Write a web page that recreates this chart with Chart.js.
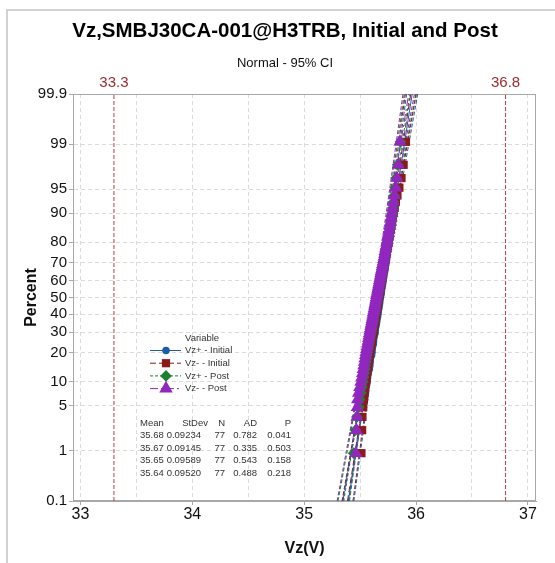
<!DOCTYPE html>
<html>
<head>
<meta charset="utf-8">
<script src="https://cdn.jsdelivr.net/npm/chart.js@4.4.0/dist/chart.umd.min.js"></script>
<style>
  html, body { margin: 0; padding: 0; background: #fff; }
  #c { display: block; }
</style>
</head>
<body>
<canvas id="c" width="555" height="563"></canvas>
<script>
// data (sorted Vz values, 77 parts per group)
const seriesNames = ["Vz+ - Initial", "Vz- - Initial", "Vz+ - Post", "Vz- - Post"];

const vzPlusInitial = [35.481, 35.497, 35.512, 35.530, 35.541, 35.548, 35.552, 35.563, 35.566, 35.571, 35.582, 35.587, 35.589, 35.591, 35.602, 35.606, 35.607, 35.611, 35.618, 35.620, 35.621, 35.627, 35.633, 35.634, 35.636, 35.641, 35.645, 35.648, 35.649, 35.655, 35.658, 35.661, 35.662, 35.667, 35.669, 35.673, 35.675, 35.676, 35.681,
  35.684, 35.688, 35.690, 35.691, 35.697, 35.700, 35.702, 35.706, 35.709, 35.712, 35.713, 35.719, 35.722, 35.724, 35.728, 35.733, 35.735, 35.738, 35.742, 35.744, 35.751, 35.756, 35.758, 35.762, 35.767, 35.771, 35.777, 35.783, 35.787, 35.790, 35.799, 35.804, 35.813, 35.827, 35.839, 35.852, 35.871, 35.904];

const vzMinusInitial = [35.512, 35.518, 35.521, 35.528, 35.534, 35.541, 35.546, 35.553, 35.558, 35.562, 35.567, 35.571, 35.576, 35.581, 35.584, 35.589, 35.593, 35.597, 35.601, 35.606, 35.609, 35.612, 35.616, 35.620, 35.623, 35.627, 35.630, 35.633, 35.637, 35.640, 35.643, 35.646, 35.650, 35.652, 35.655, 35.659, 35.662, 35.665, 35.668,
  35.671, 35.674, 35.678, 35.681, 35.684, 35.687, 35.691, 35.694, 35.697, 35.701, 35.704, 35.708, 35.711, 35.715, 35.719, 35.722, 35.726, 35.731, 35.735, 35.739, 35.744, 35.748, 35.753, 35.758, 35.763, 35.768, 35.774, 35.780, 35.786, 35.793, 35.801, 35.810, 35.820, 35.834, 35.851, 35.870, 35.889, 35.910];

const vzPlusPost = [35.442, 35.458, 35.471, 35.489, 35.497, 35.508, 35.516, 35.524, 35.529, 35.536, 35.541, 35.547, 35.553, 35.557, 35.562, 35.566, 35.571, 35.575, 35.579, 35.583, 35.588, 35.591, 35.595, 35.599, 35.603, 35.606, 35.610, 35.613, 35.617, 35.621, 35.624, 35.628, 35.631, 35.635, 35.638, 35.641, 35.645, 35.648, 35.651,
  35.655, 35.658, 35.662, 35.665, 35.669, 35.672, 35.676, 35.680, 35.684, 35.687, 35.691, 35.695, 35.699, 35.703, 35.707, 35.711, 35.716, 35.720, 35.725, 35.729, 35.734, 35.739, 35.744, 35.749, 35.754, 35.759, 35.765, 35.771, 35.777, 35.782, 35.788, 35.794, 35.799, 35.805, 35.812, 35.822, 35.836, 35.861];

const vzMinusPost = [35.462, 35.468, 35.471, 35.474, 35.477, 35.485, 35.496, 35.506, 35.514, 35.521, 35.527, 35.533, 35.538, 35.543, 35.548, 35.553, 35.557, 35.562, 35.566, 35.571, 35.575, 35.579, 35.583, 35.587, 35.591, 35.595, 35.599, 35.603, 35.607, 35.611, 35.614, 35.618, 35.622, 35.626, 35.629, 35.633, 35.637, 35.640, 35.644,
  35.647, 35.651, 35.655, 35.658, 35.662, 35.666, 35.670, 35.673, 35.677, 35.681, 35.685, 35.689, 35.693, 35.697, 35.701, 35.706, 35.710, 35.714, 35.719, 35.723, 35.728, 35.733, 35.738, 35.743, 35.748, 35.754, 35.760, 35.766, 35.772, 35.778, 35.785, 35.792, 35.800, 35.809, 35.818, 35.829, 35.841, 35.856];

// summary table
const means = [35.68, 35.67, 35.65, 35.64];
const stdevs = [0.09234, 0.09145, 0.09589, 0.09520];
const counts = [77, 77, 77, 77];
const meanText = ["35.68", "35.67", "35.65", "35.64"];
const stdevText = ["0.09234", "0.09145", "0.09589", "0.09520"];
const adText = ["0.782", "0.335", "0.543", "0.488"];
const pText = ["0.041", "0.503", "0.158", "0.218"];

// spec limits
const specLimits = [33.3, 36.8];

// axes
const percentTicks = [0.1, 1, 5, 10, 20, 30, 40, 50, 60, 70, 80, 90, 95, 99, 99.9];
const percentLabels = ["0.1", "1", "5", "10", "20", "30", "40", "50", "60", "70", "80", "90", "95", "99", "99.9"];
const xGridValues = [33, 33.5, 34, 34.5, 35, 35.5, 36, 36.5, 37];

const colors = ["#1e5ba8", "#8c1a1a", "#1d7f35", "#9127be"];
const dashes = [[], [6, 3], [3, 2], [8, 3, 2, 3]];
const markers = ["circle", "rect", "rectRot", "triangle"];
const markerSize = [3.8, 5.8, 5.8, 7.5];

// inverse normal cdf (Acklam)
function probit(p) {
  const a = [-3.969683028665376e+01, 2.209460984245205e+02, -2.759285104469687e+02, 1.383577518672690e+02, -3.066479806614716e+01, 2.506628277459239e+00];
  const b = [-5.447609879822406e+01, 1.615858368580409e+02, -1.556989798598866e+02, 6.680131188771972e+01, -1.328068155288572e+01];
  const c = [-7.784894002430293e-03, -3.223964580411365e-01, -2.400758277161838e+00, -2.549671348283185e+00, 4.374664141464968e+00, 2.938163982698783e+00];
  const d = [7.784695709041462e-03, 3.224671290700398e-01, 2.445134137142996e+00, 3.754408661907416e+00];
  const pl = 0.02425;
  let q, r;
  if (p < pl) {
    q = Math.sqrt(-2 * Math.log(p));
    return (((((c[0] * q + c[1]) * q + c[2]) * q + c[3]) * q + c[4]) * q + c[5]) / ((((d[0] * q + d[1]) * q + d[2]) * q + d[3]) * q + 1);
  }
  if (p > 1 - pl) {
    q = Math.sqrt(-2 * Math.log(1 - p));
    return -(((((c[0] * q + c[1]) * q + c[2]) * q + c[3]) * q + c[4]) * q + c[5]) / ((((d[0] * q + d[1]) * q + d[2]) * q + d[3]) * q + 1);
  }
  q = p - 0.5;
  r = q * q;
  return (((((a[0] * r + a[1]) * r + a[2]) * r + a[3]) * r + a[4]) * r + a[5]) * q / (((((b[0] * r + b[1]) * r + b[2]) * r + b[3]) * r + b[4]) * r + 1);
}

const zTicks = percentTicks.map((p) => probit(p / 100));
const zMin = zTicks[0];
const zMax = zTicks[zTicks.length - 1];

// median rank plotting positions
function toPoints(values) {
  const n = values.length;
  return values.map((v, i) => ({ x: v, y: probit((i + 1 - 0.3) / (n + 0.4)) }));
}

const allValues = [vzPlusInitial, vzMinusInitial, vzPlusPost, vzMinusPost];

const datasets = [];

// fitted line + 95% CI for each group
allValues.forEach((vals, k) => {
  const m = means[k], s = stdevs[k], n = counts[k];
  const fit = [], lo = [], hi = [];
  zTicks.forEach((z) => {
    const xp = m + z * s;
    const se = s * Math.sqrt(1 / n + (z * z) / (2 * n));
    fit.push({ x: xp, y: z });
    lo.push({ x: xp - 1.96 * se, y: z });
    hi.push({ x: xp + 1.96 * se, y: z });
  });
  [fit, lo, hi].forEach((d, j) => {
    datasets.push({
      data: d,
      showLine: true,
      borderColor: colors[k],
      backgroundColor: colors[k],
      borderWidth: 1,
      borderDash: j === 0 ? dashes[k] : [4, 2],
      pointRadius: 0,
      tension: 0.3,
      order: 10 + k,
    });
  });
});

// spec limit lines
specLimits.forEach((v) => {
  datasets.push({
    data: [{ x: v, y: zMin }, { x: v, y: zMax }],
    showLine: true,
    borderColor: "#c0393b",
    backgroundColor: "#c0393b",
    borderWidth: 1,
    borderDash: [4, 2],
    pointRadius: 0,
    order: 20,
  });
});

// points
allValues.forEach((vals, k) => {
  datasets.push({
    label: seriesNames[k],
    data: toPoints(vals),
    showLine: false,
    pointStyle: markers[k],
    pointRadius: markerSize[k],
    backgroundColor: colors[k],
    borderColor: colors[k],
    borderWidth: 0,
    order: 3 - k,
  });
});

const FONT = "'Liberation Sans', Arial, sans-serif";
Chart.defaults.font.family = FONT;

function drawMarker(ctx, type, x, y, r, color) {
  ctx.fillStyle = color;
  ctx.beginPath();
  if (type === "circle") {
    ctx.arc(x, y, r, 0, Math.PI * 2);
  } else if (type === "rect") {
    const h = r * Math.SQRT1_2;
    ctx.rect(x - h, y - h, 2 * h, 2 * h);
  } else if (type === "rectRot") {
    ctx.moveTo(x, y - r); ctx.lineTo(x + r, y); ctx.lineTo(x, y + r); ctx.lineTo(x - r, y);
  } else {
    ctx.moveTo(x, y - r);
    ctx.lineTo(x + r * 0.866, y + r * 0.5);
    ctx.lineTo(x - r * 0.866, y + r * 0.5);
  }
  ctx.closePath();
  ctx.fill();
}

const decor = {
  id: "decor",
  beforeDatasetsDraw(chart) {
    const { ctx, chartArea: a } = chart;
    ctx.save();
    ctx.strokeStyle = "#a8a8a8";
    ctx.lineWidth = 1;
    ctx.strokeRect(a.left + 0.5, a.top + 0.5, a.right - a.left - 1, a.bottom - a.top - 1);
    ctx.restore();
  },
  afterDraw(chart) {
    const { ctx } = chart;
    const xs = chart.scales.x;
    ctx.save();

    // outer frame
    ctx.fillStyle = "#d2d2d2";
    ctx.fillRect(6, 9, 549, 2);
    ctx.fillRect(6, 9, 2, 554);

    // titles
    ctx.fillStyle = "#000";
    ctx.textAlign = "center";
    ctx.textBaseline = "middle";
    ctx.font = "bold 20.5px " + FONT;
    ctx.fillText("Vz,SMBJ30CA-001@H3TRB, Initial and Post", 285, 31);
    ctx.font = "13px " + FONT;
    ctx.fillStyle = "#111";
    ctx.fillText("Normal - 95% CI", 285, 63);

    // spec limit labels
    ctx.font = "15px " + FONT;
    ctx.fillStyle = "#9e2a2b";
    specLimits.forEach((v) => {
      ctx.fillText(v.toFixed(1), xs.getPixelForValue(v), 83);
    });

    // legend
    ctx.font = "9.5px " + FONT;
    ctx.fillStyle = "#333";
    ctx.textAlign = "left";
    ctx.fillText("Variable", 185, 338);
    seriesNames.forEach((name, k) => {
      const y = 350.5 + k * 12.7;
      ctx.strokeStyle = colors[k];
      ctx.lineWidth = 1;
      ctx.setLineDash(dashes[k]);
      ctx.beginPath();
      ctx.moveTo(150, y);
      ctx.lineTo(181, y);
      ctx.stroke();
      ctx.setLineDash([]);
      drawMarker(ctx, markers[k], 166, y, k === 3 ? 7.8 : markerSize[k], colors[k]);
      ctx.fillStyle = "#333";
      ctx.fillText(name, 185, y);
    });

    // stats table
    const hy = 423;
    ctx.fillStyle = "#333";
    ctx.textAlign = "left";
    ctx.fillText("Mean", 140, hy);
    ctx.textAlign = "right";
    ctx.fillText("StDev", 208, hy);
    ctx.fillText("N", 225, hy);
    ctx.fillText("AD", 257, hy);
    ctx.fillText("P", 291, hy);
    for (let k = 0; k < 4; k++) {
      const y = 435.5 + k * 12.6;
      ctx.textAlign = "left";
      ctx.fillText(meanText[k], 140, y);
      ctx.textAlign = "right";
      ctx.fillText(stdevText[k], 201, y);
      ctx.fillText(String(counts[k]), 225, y);
      ctx.fillText(adText[k], 257, y);
      ctx.fillText(pText[k], 291, y);
    }
    ctx.restore();
  },
};

new Chart(document.getElementById("c"), {
  type: "scatter",
  data: { datasets },
  options: {
    responsive: false,
    animation: false,
    devicePixelRatio: 1,
    layout: { padding: { left: 0, right: 19, top: 94, bottom: 0 } },
    plugins: {
      legend: { display: false },
      tooltip: { enabled: false },
    },
    scales: {
      x: {
        type: "linear",
        min: 32.934,
        max: 37.072,
        afterBuildTicks: (axis) => {
          axis.ticks = xGridValues.map((v) => ({ value: v }));
        },
        afterFit: (axis) => { axis.height = 62; },
        ticks: {
          autoSkip: false,
          maxRotation: 0,
          padding: 0,
          color: "#111",
          font: { size: 16 },
          callback: (v) => (Number.isInteger(v) ? String(v) : ""),
        },
        grid: {
          color: "#dadada",
          tickLength: 4,
          tickColor: (c) => (c.tick && Number.isInteger(c.tick.value) ? "#a8a8a8" : "rgba(0,0,0,0)"),
          tickBorderDash: [],
        },
        border: { color: "#a8a8a8", dash: [4, 3] },
        title: {
          display: true,
          text: "Vz(V)",
          color: "#111",
          font: { size: 16, weight: "bold" },
          padding: { top: 0, bottom: 5 },
        },
      },
      y: {
        type: "linear",
        min: zMin,
        max: zMax,
        afterBuildTicks: (axis) => {
          axis.ticks = zTicks.map((z) => ({ value: z }));
        },
        afterFit: (axis) => { axis.width = 73; },
        ticks: {
          autoSkip: false,
          padding: 2,
          color: "#111",
          font: { size: 15 },
          callback: (v, i) => percentLabels[i],
        },
        grid: {
          color: "#dadada",
          tickLength: 4,
          tickColor: "#a8a8a8",
          tickBorderDash: [],
        },
        border: { color: "#a8a8a8", dash: [4, 3] },
        title: {
          display: true,
          text: "Percent",
          color: "#111",
          font: { size: 16, weight: "bold" },
          padding: { top: 22, bottom: 0 },
        },
      },
    },
  },
  plugins: [decor],
});
</script>
</body>
</html>
